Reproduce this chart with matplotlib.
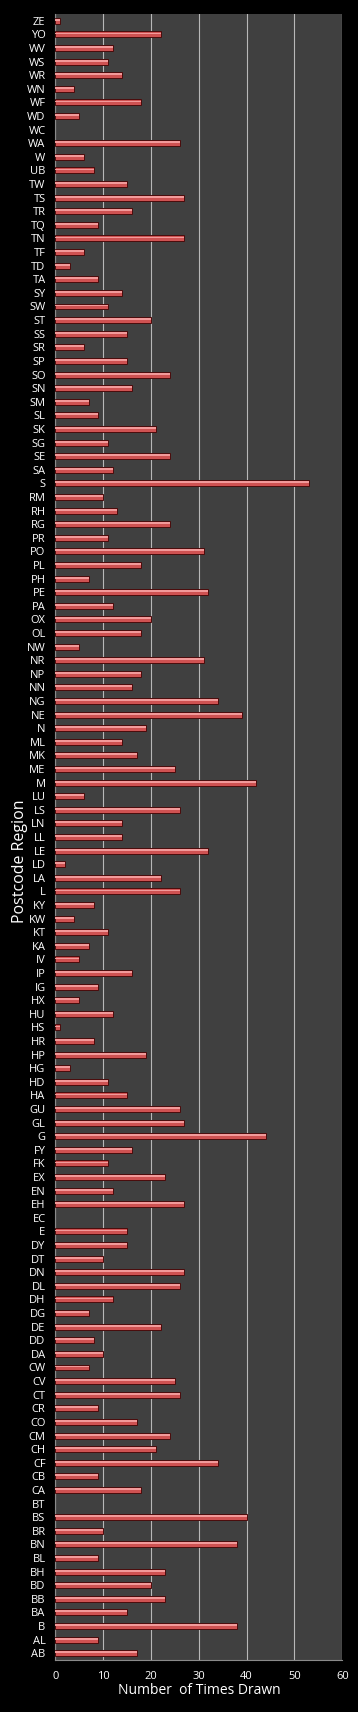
import matplotlib
matplotlib.use('Agg')
import matplotlib.pyplot as plt
import numpy as np

regions = ['ZE', 'YO', 'WV', 'WS', 'WR', 'WN', 'WF', 'WD', 'WC', 'WA',
           'W', 'UB', 'TW', 'TS', 'TR', 'TQ', 'TN', 'TF', 'TD', 'TA',
           'SY', 'SW', 'ST', 'SS', 'SR', 'SP', 'SO', 'SN', 'SM', 'SL',
           'SK', 'SG', 'SE', 'SA', 'S', 'RM', 'RH', 'RG', 'PR', 'PO',
           'PL', 'PH', 'PE', 'PA', 'OX', 'OL', 'NW', 'NR', 'NP', 'NN',
           'NG', 'NE', 'N', 'ML', 'MK', 'ME', 'M', 'LU', 'LS', 'LN',
           'LL', 'LE', 'LD', 'LA', 'L', 'KY', 'KW', 'KT', 'KA', 'IV',
           'IP', 'IG', 'HX', 'HU', 'HS', 'HR', 'HP', 'HG', 'HD', 'HA',
           'GU', 'GL', 'G', 'FY', 'FK', 'EX', 'EN', 'EH', 'EC', 'E',
           'DY', 'DT', 'DN', 'DL', 'DH', 'DG', 'DE', 'DD', 'DA', 'CW',
           'CV', 'CT', 'CR', 'CO', 'CM', 'CH', 'CF', 'CB', 'CA', 'BT',
           'BS', 'BR', 'BN', 'BL', 'BH', 'BD', 'BB', 'BA', 'B', 'AL',
           'AB']
times_drawn = [1, 22, 12, 11, 14, 4, 18, 5, 0, 26,
               6, 8, 15, 27, 16, 9, 27, 6, 3, 9,
               14, 11, 20, 15, 6, 15, 24, 16, 7, 9,
               21, 11, 24, 12, 53, 10, 13, 24, 11, 31,
               18, 7, 32, 12, 20, 18, 5, 31, 18, 16,
               34, 39, 19, 14, 17, 25, 42, 6, 26, 14,
               14, 32, 2, 22, 26, 8, 4, 11, 7, 5,
               16, 9, 5, 12, 1, 8, 19, 3, 11, 15,
               26, 27, 44, 16, 11, 23, 12, 27, 0, 15,
               15, 10, 27, 26, 12, 7, 22, 8, 10, 7,
               25, 26, 9, 17, 24, 21, 34, 9, 18, 0,
               40, 10, 38, 9, 23, 20, 23, 15, 38, 9,
               17]
x_ticks = [0, 10, 20, 30, 40, 50, 60]

fig = plt.figure(figsize=(3.58, 17.12), dpi=100, facecolor='black')
ax = fig.add_axes([0.1545, 0.0304, 0.8017, 0.9614])
ax.set_facecolor('#404040')

pos = np.arange(len(regions))
edge_w = [0.7 if v > 0 else 0 for v in times_drawn]
# main bar, then a lighter strip on top to fake the 3d shading
ax.barh(pos, times_drawn, height=0.44, color='#cf5252', edgecolor='#4a0c0c',
        linewidth=edge_w, zorder=3)
ax.barh(pos - 0.07, times_drawn, height=0.14, color='#f29a9a', linewidth=0,
        zorder=4)

ax.set_ylim(len(regions) - 0.5, -0.5)
ax.set_yticks(pos)
ax.set_yticklabels(regions)
ax.set_xlim(0, 60)
ax.set_xticks(x_ticks)

ax.xaxis.grid(True, color='#b8b8b8', linewidth=0.8, zorder=0)
ax.set_axisbelow(True)
for side in ['top', 'right']:
    ax.spines[side].set_visible(False)
for side in ['left', 'bottom']:
    ax.spines[side].set_color('#8a8a8a')
    ax.spines[side].set_linewidth(0.8)

ax.tick_params(axis='both', length=0, colors='white', labelsize=8)
ax.tick_params(axis='y', pad=7)
ax.tick_params(axis='x', pad=8)
for lbl in ax.get_yticklabels() + ax.get_xticklabels():
    lbl.set_fontfamily('Open Sans')

ax.set_xlabel('Number  of Times Drawn', color='white', fontsize=10,
              fontfamily='Open Sans', labelpad=1)
ax.set_ylabel('Postcode Region', color='white', fontsize=11.5,
              fontfamily='Open Sans')
ax.yaxis.set_label_coords(-0.095, 0.485)

fig.savefig('out.png', dpi=100, facecolor='black')
